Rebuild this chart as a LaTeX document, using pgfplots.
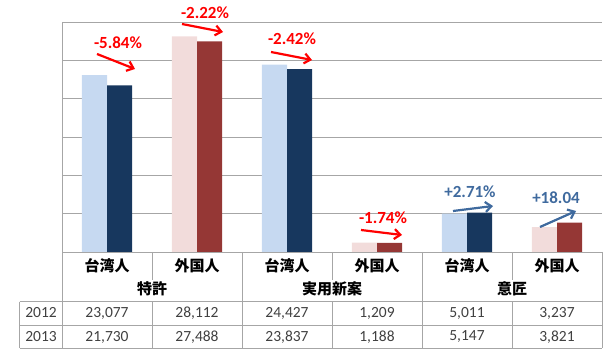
\documentclass[border=0pt]{standalone}
\usepackage{pgfplots}
\pgfplotsset{compat=1.18}
\usepackage{fontspec}
\setmainfont{Carlito}
\newfontfamily\cjk{Noto Sans CJK JP}
\usetikzlibrary{arrows.meta}
\definecolor{lblue}{HTML}{C6D9F1}
\definecolor{navy}{HTML}{17375E}
\definecolor{lpink}{HTML}{F2DCDB}
\definecolor{dred}{HTML}{953735}
\definecolor{ared}{HTML}{FF0000}
\definecolor{ablue}{HTML}{3F6A9E}
\definecolor{gridg}{HTML}{A6A6A6}
\definecolor{numg}{HTML}{404040}
\begin{document}
\begin{tikzpicture}[x=1pt,y=1pt]
\path[use as bounding box] (0,0) rectangle (615,352);
\begin{axis}[
  at={(62pt,100pt)}, anchor=south west,
  width=540pt, height=230pt, scale only axis,
  xmin=-0.5, xmax=5.5, ymin=0, ymax=30000,
  ytick={0,5000,...,30000}, yticklabels={}, xtick=\empty,
  scaled y ticks=false,
  ymajorgrids, grid style={gridg, line width=0.8pt},
  axis line style={draw=none}, tick style={draw=none},
  clip=false,
]
\addplot[ybar, bar width=0.28, bar shift=-0.14, fill=lblue, draw=none] coordinates {(0,23077) (2,24427) (4,5011)};
\addplot[ybar, bar width=0.28, bar shift=0.14, fill=navy, draw=none] coordinates {(0,21730) (2,23837) (4,5147)};
\addplot[ybar, bar width=0.28, bar shift=-0.14, fill=lpink, draw=none] coordinates {(1,28112) (3,1209) (5,3237)};
\addplot[ybar, bar width=0.28, bar shift=0.14, fill=dred, draw=none] coordinates {(1,27488) (3,1188) (5,3821)};
\end{axis}
% table lines
\begin{scope}[gridg, line width=0.8pt]
\draw (62,330) -- (62,4);
\draw (19.5,50.3) -- (602,50.3);
\draw (19.5,27) -- (602,27);
\draw (19.5,4) -- (602,4);
\draw (19.5,50.3) -- (19.5,4);
\foreach \x in {242,422,602} \draw (\x,100) -- (\x,4);
\foreach \x in {152,332,512} {\draw (\x,100) -- (\x,72); \draw (\x,50.3) -- (\x,4);}
\end{scope}
% category labels
\begin{scope}[font=\cjk\bfseries\fontsize{15}{17}\selectfont]
\foreach \x/\t in {107/台湾人,197/外国人,287/台湾人,377/外国人,467/台湾人,557/外国人}
  \node at (\x,86) {\t};
\node at (152,63) {特許};
\node at (332,63) {実用新案};
\node at (512,63) {意匠};
\end{scope}
\begin{scope}[font=\fontsize{15.5}{18}\selectfont, text=numg]
\node at (41,39) {2012};
\node at (41,15) {2013};
\foreach \x/\a/\b in {107/23{,}077/21{,}730,197/28{,}112/27{,}488,287/24{,}427/23{,}837,377/1{,}209/1{,}188,467/5{,}011/5{,}147,557/3{,}237/3{,}821}{
  \node at (\x,39) {\a};
  \node at (\x,15) {\b};
}
\end{scope}
% annotations
\begin{scope}[font=\bfseries\fontsize{17}{20}\selectfont]
\tikzset{rarr/.style={ared, line width=2.2pt, -{Straight Barb[length=6pt,width=10pt]}},
         barr/.style={ablue, line width=2.2pt, -{Straight Barb[length=6pt,width=10pt]}}}
\node[ared] at (118,309) {-5.84\%};
\draw[rarr] (97,298) -- (135,283);
\node[ared] at (205,339) {-2.22\%};
\draw[rarr] (182,328) -- (223,320);
\node[ared] at (292,313) {-2.42\%};
\draw[rarr] (271,300) -- (312,292);
\node[ared] at (383,134) {-1.74\%};
\draw[rarr] (361,122) -- (402,117);
\node[ablue] at (470,160) {+2.71\%};
\draw[barr] (453,141) -- (493,146);
\node[ablue] at (556,154) {+18.04};
\draw[barr] (540,125) -- (576,141);
\end{scope}
\end{tikzpicture}
\end{document}
